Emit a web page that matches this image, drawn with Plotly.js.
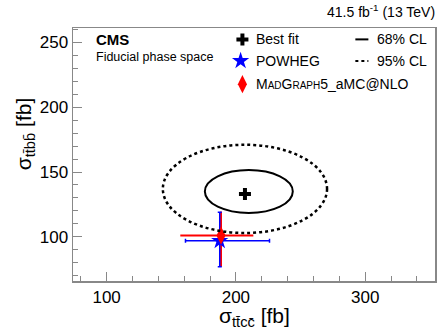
<!DOCTYPE html>
<html><head><meta charset="utf-8">
<script src="https://cdn.plot.ly/plotly-3.0.1.min.js"></script>
<style>body{margin:0;padding:0;background:#fff}#c{width:437px;height:331px}</style>
</head><body><div id="c"></div>
<script>
// Data
const bestFitX = [207];
const bestFitY = [133];
const cl68X = [176, 244];
const cl68Y = [118.5, 151.5];
const cl95X = [143.5, 270.5];
const cl95Y = [103, 171];
const powhegX = [187.5];
const powhegY = [97];
const powhegXErrMinus = [26.5];
const powhegXErrPlus = [38.5];
const powhegYErrMinus = [20];
const powhegYErrPlus = [22];
const mgX = [188.5];
const mgY = [101];
const mgXErrMinus = [31.5];
const mgXErrPlus = [25];
const mgYErrMinus = [24];
const mgYErrPlus = [18.5];
const xTicks = [100, 200, 300];
const yTicks = [100, 150, 200, 250];

const F = "Liberation Sans, Arial, Helvetica, sans-serif";

const traces = [
  {x: mgX, y: mgY, type:'scatter', mode:'markers', showlegend:false,
   marker:{color:'red', size:1, opacity:0},
   error_x:{type:'data', symmetric:false, array:mgXErrPlus, arrayminus:mgXErrMinus, color:'red', thickness:2, width:0},
   error_y:{type:'data', symmetric:false, array:mgYErrPlus, arrayminus:mgYErrMinus, color:'red', thickness:2, width:0}},
  {x: powhegX, y: powhegY, type:'scatter', mode:'markers', showlegend:false,
   marker:{color:'blue', size:1, opacity:0},
   error_x:{type:'data', symmetric:false, array:powhegXErrPlus, arrayminus:powhegXErrMinus, color:'blue', thickness:1.5, width:2},
   error_y:{type:'data', symmetric:false, array:powhegYErrPlus, arrayminus:powhegYErrMinus, color:'blue', thickness:1.5, width:2}},
  {x: powhegX, y: powhegY, type:'scatter', mode:'markers', showlegend:false,
   marker:{symbol:'star', color:'blue', size:13, line:{width:0}}},
  {x: mgX, y: mgY, type:'scatter', mode:'markers', showlegend:false,
   marker:{symbol:'diamond-tall', color:'red', size:13, line:{width:0}}},
  {x: bestFitX, y: bestFitY, type:'scatter', mode:'markers', showlegend:false,
   marker:{symbol:'cross', color:'black', size:10, line:{width:0}}},
  // legend markers on overlay axes
  {x:[0.468], y:[0.955], xaxis:'x2', yaxis:'y2', type:'scatter', mode:'markers', showlegend:false,
   marker:{symbol:'cross', color:'black', size:10, line:{width:0}}},
  {x:[0.463], y:[0.87], xaxis:'x2', yaxis:'y2', type:'scatter', mode:'markers', showlegend:false,
   marker:{symbol:'star', color:'blue', size:13, line:{width:0}}},
  {x:[0.468], y:[0.778], xaxis:'x2', yaxis:'y2', type:'scatter', mode:'markers', showlegend:false,
   marker:{symbol:'diamond-tall', color:'red', size:13, line:{width:0}}}
];

const layout = {
  width:437, height:331,
  margin:{l:73, r:2, t:28, b:50},
  paper_bgcolor:'#fff', plot_bgcolor:'#fff',
  font:{family:F, color:'#000'},
  showlegend:false,
  xaxis:{range:[74,354], tickvals:xTicks, ticks:'inside', ticklen:9, tickcolor:'#888', tickwidth:1,
    minor:{dtick:20, tick0:0, ticks:'inside', ticklen:5, tickcolor:'#888'},
    showgrid:false, zeroline:false, showline:true, mirror:true, linecolor:'#888', linewidth:1.5,
    tickfont:{size:17, family:F}},
  yaxis:{range:[66,261], tickvals:yTicks, ticks:'inside', ticklen:9, tickcolor:'#888', tickwidth:1,
    minor:{dtick:10, tick0:0, ticks:'inside', ticklen:5, tickcolor:'#888'},
    showgrid:false, zeroline:false, showline:true, mirror:true, linecolor:'#888', linewidth:1.5,
    tickfont:{size:17, family:F}},
  xaxis2:{overlaying:'x', range:[0,1], visible:false, fixedrange:true},
  yaxis2:{overlaying:'y', range:[0,1], visible:false, fixedrange:true},
  shapes:[
    {type:'circle', xref:'x', yref:'y', x0:cl68X[0], x1:cl68X[1], y0:cl68Y[0], y1:cl68Y[1], line:{color:'black', width:2}},
    {type:'circle', xref:'x', yref:'y', x0:cl95X[0], x1:cl95X[1], y0:cl95Y[0], y1:cl95Y[1], line:{color:'black', width:2.5, dash:'dot'}},
    {type:'line', xref:'x2', yref:'y2', x0:0.780, x1:0.816, y0:0.955, y1:0.955, line:{color:'black', width:2}},
    {type:'line', xref:'x2', yref:'y2', x0:0.780, x1:0.816, y0:0.87, y1:0.87, line:{color:'black', width:2, dash:'dot'}}
  ],
  annotations:[
    {text:'41.5 fb<sup>-1</sup> (13 TeV)', xref:'paper', yref:'paper', x:1.005, y:1.0, yshift:6, xanchor:'right', yanchor:'bottom', showarrow:false, font:{size:14}},
    {text:'<b>CMS</b>', xref:'x2', yref:'y2', x:0.058, y:0.955, xanchor:'left', yanchor:'middle', showarrow:false, font:{size:15}},
    {text:'Fiducial phase space', xref:'x2', yref:'y2', x:0.058, y:0.885, xanchor:'left', yanchor:'middle', showarrow:false, font:{size:12.5}},
    {text:'Best fit', xref:'x2', yref:'y2', x:0.50, y:0.955, xanchor:'left', yanchor:'middle', showarrow:false, font:{size:14}},
    {text:'POWHEG', xref:'x2', yref:'y2', x:0.50, y:0.87, xanchor:'left', yanchor:'middle', showarrow:false, font:{size:14}},
    {text:'M<span style="font-size:10px">AD</span>G<span style="font-size:10px">RAPH</span>5_aMC@NLO', xref:'x2', yref:'y2', x:0.50, y:0.778, xanchor:'left', yanchor:'middle', showarrow:false, font:{size:14}},
    {text:'68% CL', xref:'x2', yref:'y2', x:0.833, y:0.955, xanchor:'left', yanchor:'middle', showarrow:false, font:{size:14}},
    {text:'95% CL', xref:'x2', yref:'y2', x:0.833, y:0.87, xanchor:'left', yanchor:'middle', showarrow:false, font:{size:14}},
    {text:'σ<sub>tt\u0304cc\u0304</sub> [fb]', xref:'paper', yref:'paper', x:0.5, y:0, yshift:-36, xanchor:'center', yanchor:'middle', showarrow:false, font:{size:21}},
    {text:'σ<sub>tt\u0304bb\u0304</sub> [fb]', xref:'paper', yref:'paper', x:0, xshift:-48, y:0.58, xanchor:'center', yanchor:'middle', textangle:-90, showarrow:false, font:{size:21}}
  ]
};
Plotly.newPlot('c', traces, layout, {staticPlot:true});
</script></body></html>
